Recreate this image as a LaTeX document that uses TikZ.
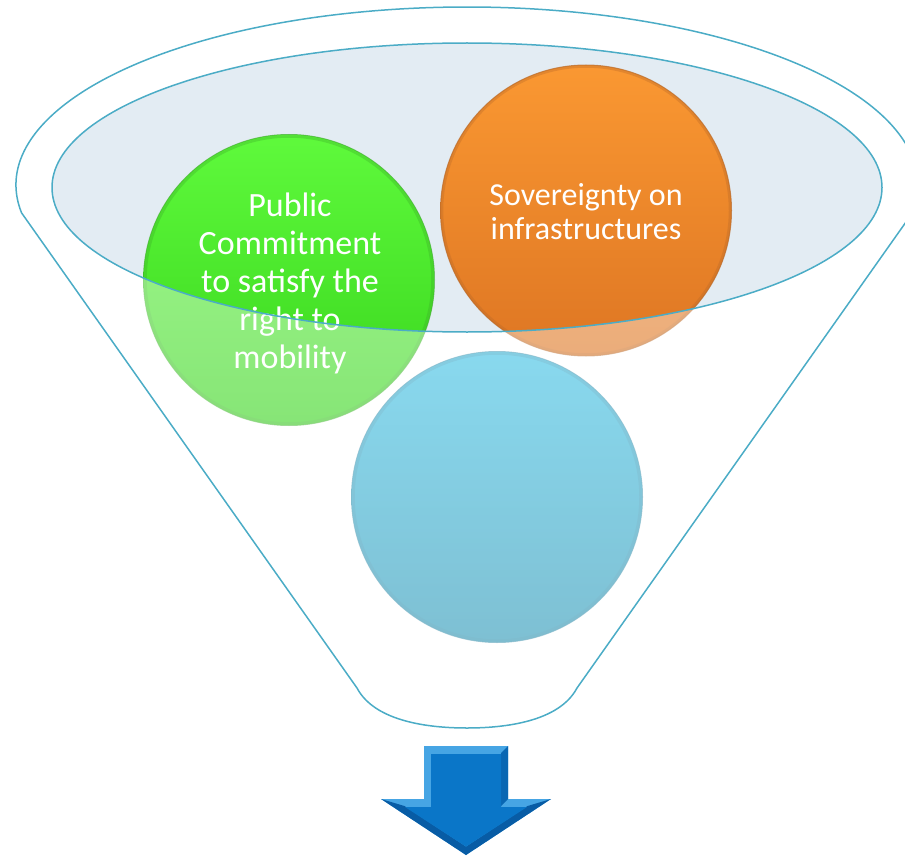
\documentclass[tikz,border=0pt]{standalone}
\usepackage{fontspec}
\setmainfont{Carlito}
\begin{document}
\begin{tikzpicture}[x=1pt,y=-1pt,
  rimline/.style={draw=rim, line width=1.5pt},
  ball/.style={circle, inner sep=0pt, minimum size=291pt, line width=1pt},
  ballrim/.style={line width=2.5pt, draw opacity=0.35},
  balltext/.style={text=white, align=center, inner sep=0pt},
  arrowmain/.style={fill=arrowblue}]
\definecolor{rim}{RGB}{75,172,198}
\definecolor{mouth}{RGB}{227,236,243}
\definecolor{gtop}{RGB}{95,250,60}
\definecolor{gbot}{RGB}{55,212,28}
\definecolor{gedge}{RGB}{60,175,40}
\definecolor{otop}{RGB}{250,152,50}
\definecolor{obot}{RGB}{222,118,35}
\definecolor{oedge}{RGB}{185,105,40}
\definecolor{btop}{RGB}{58,192,228}
\definecolor{bbot}{RGB}{40,150,182}
\definecolor{bedge}{RGB}{45,135,165}
\definecolor{arrowblue}{RGB}{10,118,200}
\definecolor{arrowlight}{RGB}{70,165,228}
\definecolor{arrowdark}{RGB}{8,92,165}
\useasboundingbox (0,0) rectangle (905,856);
% mouth of the funnel
\fill[mouth] (467,187.5) ellipse [x radius=415, y radius=144.5];
% balls
\node[ball, top color=gtop, bottom color=gbot, draw=gedge, draw opacity=0.7] (green) at (289,280) {};
\node[ball, top color=otop, bottom color=obot, draw=oedge, draw opacity=0.7] (orange) at (586,210.5) {};
\node[ball, top color=btop, bottom color=bbot, draw=bedge, draw opacity=0.7] (blue) at (497,497) {};
\draw[ballrim, gedge] (green.center) circle[radius=143.5];
\draw[ballrim, oedge] (orange.center) circle[radius=144];
\draw[ballrim, bedge] (blue.center) circle[radius=143.5];
\node[balltext, font=\fontsize{34}{38}\selectfont] (gtext) at (290,283) {Public\\Commitment\\to satisfy the\\right to\\mobility};
\node[balltext, font=\fontsize{32}{34}\selectfont] (otext) at (586,212) {Sovereignty on\\infrastructures};
% funnel body veil
\fill[white, opacity=0.4, even odd rule]
  (21.55,212.85) arc[start angle=171, end angle=369, x radius=451, y radius=178]
  -- (577,688) .. controls (559,722) and (504,728) .. (467,728)
  .. controls (430,728) and (375,722) .. (357,688) -- cycle
  (467,187.5) ellipse [x radius=415, y radius=144.5];
% funnel outlines
\draw[rimline]
  (21.55,212.85) arc[start angle=171, end angle=369, x radius=451, y radius=178]
  -- (577,688) .. controls (559,722) and (504,728) .. (467,728)
  .. controls (430,728) and (375,722) .. (357,688) -- cycle;
\draw[rimline] (467,187.5) ellipse [x radius=415, y radius=144.5];
% arrow
\fill[arrowlight] (424,746) -- (508,746) -- (508,799) -- (551,799) -- (466,855) -- (381,799) -- (424,799) -- cycle;
\fill[arrowdark] (551,799) -- (466,855) -- (381,799) -- (404.4,806) -- (466,846.6) -- (527.6,806) -- cycle;
\fill[arrowdark!60!arrowblue] (508,746) -- (508,799) -- (501,806) -- (501,753) -- cycle;
\fill[arrowmain] (431,754) -- (501,754) -- (501,807) -- (527,807) -- (466,846.6) -- (405,807) -- (431,807) -- cycle;
\end{tikzpicture}
\end{document}
